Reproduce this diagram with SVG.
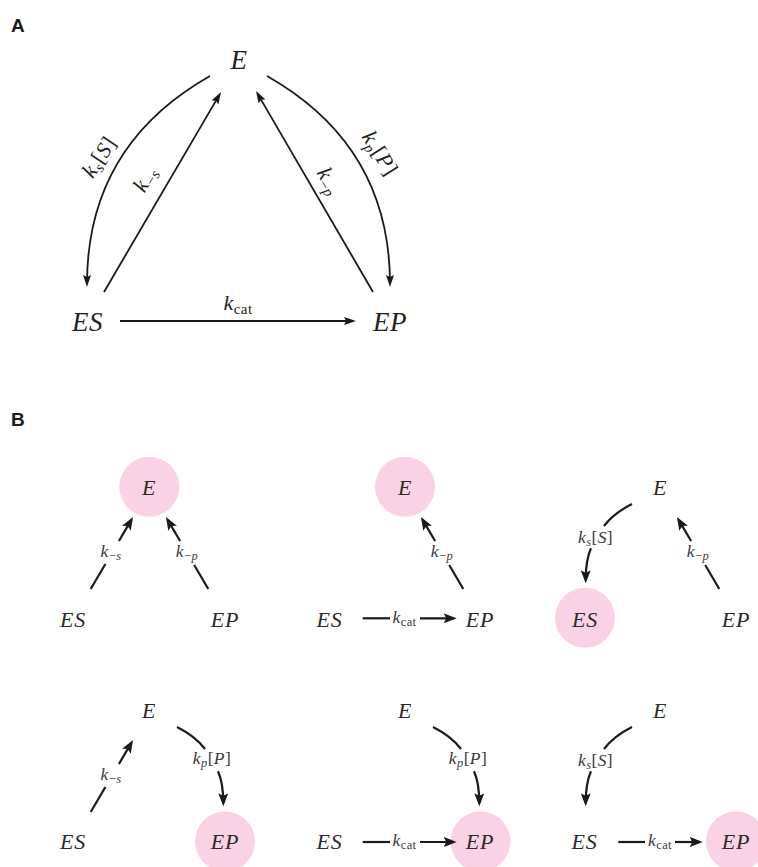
<svg xmlns="http://www.w3.org/2000/svg" width="758" height="867" viewBox="0 0 758 867">
<style>
.panel{font-family:"Liberation Sans",Arial,sans-serif;font-weight:bold;font-size:19px;fill:#1a1a1a}
.na{font-family:"Liberation Serif",serif;font-style:italic;font-size:27px;fill:#231f20;letter-spacing:0.5px}
.nb{font-family:"Liberation Serif",serif;font-style:italic;font-size:22px;fill:#2a2a2a;letter-spacing:0.8px}
.la{font-family:"Liberation Serif",serif;font-size:22px;fill:#231f20;letter-spacing:0.5px}
.lb{font-family:"Liberation Serif",serif;font-size:17.5px;fill:#3a3a3a;letter-spacing:0.4px}
.i{font-style:italic}
.ca{stroke:#1a1a1a;stroke-width:1.8;fill:none}
.cb{stroke:#1a1a1a;stroke-width:2.2;fill:none}
.ma{marker-end:url(#ha)}
.mb{marker-end:url(#hb)}
.hl{fill:#f9d3e5}
</style>
<defs>
<marker id="ha" markerUnits="userSpaceOnUse" viewBox="0 0 12 8" markerWidth="12" markerHeight="8" refX="9" refY="4" orient="auto"><path d="M0,0 L12,4 L0,8 L2,4 z" fill="#1a1a1a"/></marker>
<marker id="hb" markerUnits="userSpaceOnUse" viewBox="0 0 13 10" markerWidth="13" markerHeight="10" refX="10" refY="5" orient="auto"><path d="M0,0 L13,5 L0,10 L2.5,5 z" fill="#1a1a1a"/></marker>
</defs>
<rect width="758" height="867" fill="#ffffff"/>
<text class="panel" x="11" y="32">A</text>
<text class="panel" x="11" y="426">B</text>

<!-- Panel A nodes -->
<g id="A-E"><text class="na" x="239" y="69" text-anchor="middle">E</text></g>
<g id="A-ES"><text class="na" x="87.5" y="331" text-anchor="middle">ES</text></g>
<g id="A-EP"><text class="na" x="390" y="331" text-anchor="middle">EP</text></g>

<!-- Panel A connectors -->
<g id="A-connectors">
<path class="ca ma" d="M210,76 C150,110 87,170 87,284"/>
<path class="ca ma" d="M104,292 L219.5,94.6"/>
<path class="ca ma" d="M373,292 L257.5,93.6"/>
<path class="ca ma" d="M267,76 C327,110 390,170 390,284"/>
<path class="ca ma" d="M120,321 L353,321"/>
<text class="la" transform="translate(105,161) rotate(-56)" text-anchor="middle"><tspan class="i">k</tspan><tspan class="i" font-size="15" dy="4">s</tspan><tspan dy="-4">[</tspan><tspan class="i">S</tspan>]</text>
<text class="la" transform="translate(151,182.5) rotate(-60)" text-anchor="middle"><tspan class="i">k</tspan><tspan font-size="15" dy="4">−</tspan><tspan class="i" font-size="15">s</tspan></text>
<text class="la" transform="translate(323,184.5) rotate(60)" text-anchor="middle"><tspan class="i">k</tspan><tspan font-size="15" dy="4">−</tspan><tspan class="i" font-size="15">p</tspan></text>
<text class="la" transform="translate(374,157) rotate(58)" text-anchor="middle"><tspan class="i">k</tspan><tspan class="i" font-size="15" dy="4">p</tspan><tspan dy="-4">[</tspan><tspan class="i">P</tspan>]</text>
<text class="la" x="238" y="310" text-anchor="middle"><tspan class="i">k</tspan><tspan font-size="15" dy="4">cat</tspan></text>
</g>

<!-- Panel B nodes -->
<g id="B1-E"><circle class="hl" cx="149.3" cy="486.7" r="30"/><text class="nb" x="149" y="495" text-anchor="middle">E</text></g>
<g id="B1-ES"><text class="nb" x="73" y="626.5" text-anchor="middle">ES</text></g>
<g id="B1-EP"><text class="nb" x="225" y="626.5" text-anchor="middle">EP</text></g>

<g id="B2-E"><circle class="hl" cx="405" cy="486.7" r="30"/><text class="nb" x="405" y="495" text-anchor="middle">E</text></g>
<g id="B2-ES"><text class="nb" x="329.5" y="626.5" text-anchor="middle">ES</text></g>
<g id="B2-EP"><text class="nb" x="480" y="626.5" text-anchor="middle">EP</text></g>

<g id="B3-E"><text class="nb" x="660" y="495" text-anchor="middle">E</text></g>
<g id="B3-ES"><circle class="hl" cx="585" cy="617.7" r="30"/><text class="nb" x="585" y="626.5" text-anchor="middle">ES</text></g>
<g id="B3-EP"><text class="nb" x="736" y="626.5" text-anchor="middle">EP</text></g>

<g id="B4-E"><text class="nb" x="149" y="718" text-anchor="middle">E</text></g>
<g id="B4-ES"><text class="nb" x="73" y="849" text-anchor="middle">ES</text></g>
<g id="B4-EP"><circle class="hl" cx="225" cy="841.5" r="30"/><text class="nb" x="225" y="849" text-anchor="middle">EP</text></g>

<g id="B5-E"><text class="nb" x="405" y="718" text-anchor="middle">E</text></g>
<g id="B5-ES"><text class="nb" x="329.5" y="849" text-anchor="middle">ES</text></g>
<g id="B5-EP"><circle class="hl" cx="480.5" cy="841.5" r="30"/><text class="nb" x="480" y="849" text-anchor="middle">EP</text></g>

<g id="B6-E"><text class="nb" x="660" y="718" text-anchor="middle">E</text></g>
<g id="B6-ES"><text class="nb" x="584.5" y="849" text-anchor="middle">ES</text></g>
<g id="B6-EP"><circle class="hl" cx="736" cy="841.5" r="30"/><text class="nb" x="736" y="849" text-anchor="middle">EP</text></g>

<!-- Panel B connectors -->
<g id="B-connectors">
<!-- B1 -->
<path class="cb" d="M90.7,589 L105.4,564"/>
<path class="cb mb" d="M118.9,541 L131.5,519.6"/>
<text class="lb" x="111" y="557" text-anchor="middle"><tspan class="i">k</tspan><tspan font-size="12.5" dy="3">−</tspan><tspan class="i" font-size="12.5">s</tspan></text>
<path class="cb" d="M208.3,589 L194.2,565"/>
<path class="cb mb" d="M180.1,541 L167.5,519.6"/>
<text class="lb" x="187" y="557" text-anchor="middle"><tspan class="i">k</tspan><tspan font-size="12.5" dy="3">−</tspan><tspan class="i" font-size="12.5">p</tspan></text>
<!-- B2 -->
<path class="cb" d="M463.3,589 L449.2,565"/>
<path class="cb mb" d="M435.1,541 L422.5,519.6"/>
<text class="lb" x="442" y="557" text-anchor="middle"><tspan class="i">k</tspan><tspan font-size="12.5" dy="3">−</tspan><tspan class="i" font-size="12.5">p</tspan></text>
<path class="cb" d="M362.7,618.3 L390,618.3"/>
<path class="cb mb" d="M420,618.3 L453.7,618.3"/>
<text class="lb" x="404.5" y="622.5" text-anchor="middle"><tspan class="i">k</tspan><tspan font-size="12.5" dy="3">cat</tspan></text>
<!-- B3 -->
<path class="cb" d="M632,504 Q614,513 604,526"/>
<path class="cb mb" d="M591,548.3 Q585.7,560 585.7,580.3"/>
<text class="lb" x="595.5" y="543" text-anchor="middle"><tspan class="i">k</tspan><tspan class="i" font-size="12.5" dy="3">s</tspan><tspan dy="-3">[</tspan><tspan class="i">S</tspan>]</text>
<path class="cb" d="M719.3,589 L705.2,565"/>
<path class="cb mb" d="M691.1,541 L678.5,519.6"/>
<text class="lb" x="698" y="557" text-anchor="middle"><tspan class="i">k</tspan><tspan font-size="12.5" dy="3">−</tspan><tspan class="i" font-size="12.5">p</tspan></text>
<!-- B4 -->
<path class="cb" d="M90.7,812 L105.4,787"/>
<path class="cb mb" d="M118.9,764 L131.5,742.6"/>
<text class="lb" x="111" y="780" text-anchor="middle"><tspan class="i">k</tspan><tspan font-size="12.5" dy="3">−</tspan><tspan class="i" font-size="12.5">s</tspan></text>
<path class="cb" d="M177,727 Q195,736 205,749"/>
<path class="cb mb" d="M218,771.3 Q223.3,783 223.3,803.3"/>
<text class="lb" x="212" y="764" text-anchor="middle"><tspan class="i">k</tspan><tspan class="i" font-size="12.5" dy="3">p</tspan><tspan dy="-3">[</tspan><tspan class="i">P</tspan>]</text>
<!-- B5 -->
<path class="cb" d="M433,727 Q451,736 461,749"/>
<path class="cb mb" d="M474,771.3 Q479.3,783 479.3,803.3"/>
<text class="lb" x="468" y="764" text-anchor="middle"><tspan class="i">k</tspan><tspan class="i" font-size="12.5" dy="3">p</tspan><tspan dy="-3">[</tspan><tspan class="i">P</tspan>]</text>
<path class="cb" d="M362.7,842 L390,842"/>
<path class="cb mb" d="M420,842 L453.7,842"/>
<text class="lb" x="404.5" y="846" text-anchor="middle"><tspan class="i">k</tspan><tspan font-size="12.5" dy="3">cat</tspan></text>
<!-- B6 -->
<path class="cb" d="M632,727 Q614,736 604,749"/>
<path class="cb mb" d="M591,771.3 Q585.7,783 585.7,803.3"/>
<text class="lb" x="595.5" y="766" text-anchor="middle"><tspan class="i">k</tspan><tspan class="i" font-size="12.5" dy="3">s</tspan><tspan dy="-3">[</tspan><tspan class="i">S</tspan>]</text>
<path class="cb" d="M618.3,842 L645,842"/>
<path class="cb mb" d="M675,842 L699.7,842"/>
<text class="lb" x="660" y="846" text-anchor="middle"><tspan class="i">k</tspan><tspan font-size="12.5" dy="3">cat</tspan></text>
</g>
</svg>
